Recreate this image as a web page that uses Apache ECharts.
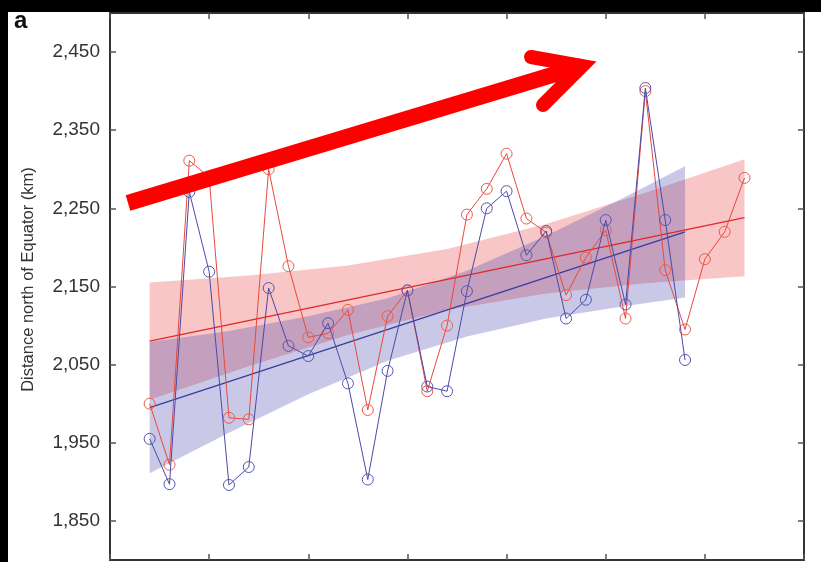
<!DOCTYPE html>
<html><head><meta charset="utf-8">
<script src="https://cdn.jsdelivr.net/npm/echarts@6/dist/echarts.min.js"></script>
<style>html,body{margin:0;padding:0;background:#fff}#c{width:821px;height:562px}</style>
</head><body><div id="c"></div>
<script>
// ---- data ----
const redYears = [1982,1983,1984,1985,1986,1987,1988,1989,1990,1991,1992,1993,1994,1995,1996,1997,1998,1999,2000,2001,2002,2003,2004,2005,2006,2007,2008,2009,2010,2011,2012];
const redValues = [2000,1922,2311,2290,1982,1980,2300,2176,2085,2090,2120,1992,2112,2145,2016,2100,2242,2275,2320,2237,2219,2139,2187,2222,2109,2400,2171,2095,2185,2220,2289];
const blueYears = [1982,1983,1984,1985,1986,1987,1988,1989,1990,1991,1992,1993,1994,1995,1996,1997,1998,1999,2000,2001,2002,2003,2004,2005,2006,2007,2008,2009];
const blueValues = [1955,1897,2271,2169,1896,1919,2148,2074,2061,2103,2026,1903,2042,2145,2022,2016,2144,2250,2272,2190,2221,2109,2133,2235,2127,2404,2235,2056];
const redTrendYears = [1982, 2012];
const redTrendValues = [2080, 2238];
const blueTrendYears = [1982, 2009];
const blueTrendValues = [1995, 2220];
const redBandYears = [1982,1987,1992,1997,2002,2007,2012];
const redBandUpper = [2155,2164,2177,2198,2230,2270,2313];
const redBandLower = [2005,2048,2088,2120,2141,2154,2163];
const blueBandYears = [1982,1986,1990,1994,1998,2002,2006,2009];
const blueBandUpper = [2079,2093,2112,2135,2170,2215,2265,2304];
const blueBandLower = [1911,1963,2012,2055,2086,2109,2125,2136];
const yTickValues = [1850,1950,2050,2150,2250,2350,2450];
const yAxisTitle = 'Distance north of Equator (km)';
const panelLabel = 'a';

// ---- chart ----
const FONT = '"Liberation Sans", Arial, sans-serif';
const chart = echarts.init(document.getElementById('c'), null, {renderer: 'canvas'});
const pairs = (xs, ys) => xs.map((x, i) => [x, ys[i]]);
const fmt = v => String(v).replace(/\B(?=(\d{3})+(?!\d))/g, ',');

function bandSeries(name, years, upper, lower, color) {
  return {
    name, type: 'custom', z: 1, silent: true,
    data: years.map((y, i) => [y, upper[i], lower[i]]),
    renderItem: function (params, api) {
      if (params.dataIndex !== 0) return null;
      const pts = [];
      for (let i = 0; i < years.length; i++) pts.push(api.coord([years[i], upper[i]]));
      for (let i = years.length - 1; i >= 0; i--) pts.push(api.coord([years[i], lower[i]]));
      return { type: 'polygon', shape: { points: pts }, style: { fill: color } };
    }
  };
}

const axisLineStyle = { color: '#333', width: 2 };
const tickStyle = { color: '#555', width: 1.5 };

const option = {
  animation: false,
  backgroundColor: '#fff',
  grid: { left: 110, right: 17, top: 13, bottom: 2, containLabel: false },
  xAxis: [
    { type: 'value', min: 1980, max: 2015, interval: 5, position: 'bottom',
      axisLine: { show: true, onZero: false, lineStyle: axisLineStyle },
      axisTick: { show: true, inside: true, length: 6, lineStyle: tickStyle },
      axisLabel: { show: false }, splitLine: { show: false } },
    { type: 'value', min: 1980, max: 2015, interval: 5, position: 'top',
      axisLine: { show: true, onZero: false, lineStyle: axisLineStyle },
      axisTick: { show: true, inside: true, length: 6, lineStyle: tickStyle },
      axisLabel: { show: false }, splitLine: { show: false } }
  ],
  yAxis: [
    { type: 'value', min: 1800, max: 2500, position: 'left',
      name: yAxisTitle, nameLocation: 'middle', nameGap: 73,
      nameTextStyle: { fontSize: 16.5, color: '#333', fontFamily: FONT, padding: [0, 0, 0, 14] },
      axisLine: { show: true, onZero: false, lineStyle: axisLineStyle },
      axisTick: { show: true, inside: true, length: 6, customValues: yTickValues, lineStyle: tickStyle },
      axisLabel: { customValues: yTickValues, formatter: fmt, fontSize: 19, color: '#333', margin: 10, fontFamily: FONT },
      splitLine: { show: false } },
    { type: 'value', min: 1800, max: 2500, position: 'right',
      axisLine: { show: true, onZero: false, lineStyle: axisLineStyle },
      axisTick: { show: true, inside: true, length: 6, customValues: yTickValues, lineStyle: tickStyle },
      axisLabel: { show: false }, splitLine: { show: false } }
  ],
  series: [
    bandSeries('red band', redBandYears, redBandUpper, redBandLower, 'rgba(232,70,75,0.31)'),
    bandSeries('blue band', blueBandYears, blueBandUpper, blueBandLower, 'rgba(60,60,170,0.28)'),
    { name: 'red trend', type: 'line', z: 3, data: pairs(redTrendYears, redTrendValues), symbol: 'none',
      lineStyle: { color: '#E02828', width: 1.3 }, silent: true },
    { name: 'blue trend', type: 'line', z: 3, data: pairs(blueTrendYears, blueTrendValues), symbol: 'none',
      lineStyle: { color: '#3A3AA0', width: 1.3 }, silent: true },
    { name: 'red', type: 'line', z: 4, data: pairs(redYears, redValues), symbol: 'circle', symbolSize: 11,
      lineStyle: { color: '#E8483C', width: 1 },
      itemStyle: { color: 'rgba(0,0,0,0)', borderColor: '#EE5A48', borderWidth: 1 } },
    { name: 'blue', type: 'line', z: 5, data: pairs(blueYears, blueValues), symbol: 'circle', symbolSize: 11,
      lineStyle: { color: '#4A4AA8', width: 1 },
      itemStyle: { color: 'rgba(0,0,0,0)', borderColor: '#5656B0', borderWidth: 1 } }
  ],
  graphic: [
    { type: 'line', z: 100, shape: { x1: 128, y1: 203, x2: 582, y2: 66 },
      style: { stroke: '#FF0000', lineWidth: 16, lineCap: 'butt' } },
    { type: 'polyline', z: 100, shape: { points: [[531, 57], [582, 66], [543, 105]] },
      style: { stroke: '#FF0000', lineWidth: 14, lineJoin: 'miter', miterLimit: 10, lineCap: 'round', fill: null } },
    { type: 'rect', z: 101, shape: { x: 0, y: 0, width: 821, height: 12 }, style: { fill: '#000' } },
    { type: 'rect', z: 101, shape: { x: 0, y: 0, width: 8, height: 562 }, style: { fill: '#000' } },
    { type: 'text', z: 102, x: 14, y: 21,
      style: { text: panelLabel, font: 'bold 24px ' + FONT, fill: '#111', verticalAlign: 'middle', align: 'left' } }
  ]
};
chart.setOption(option);
</script>
</body></html>
